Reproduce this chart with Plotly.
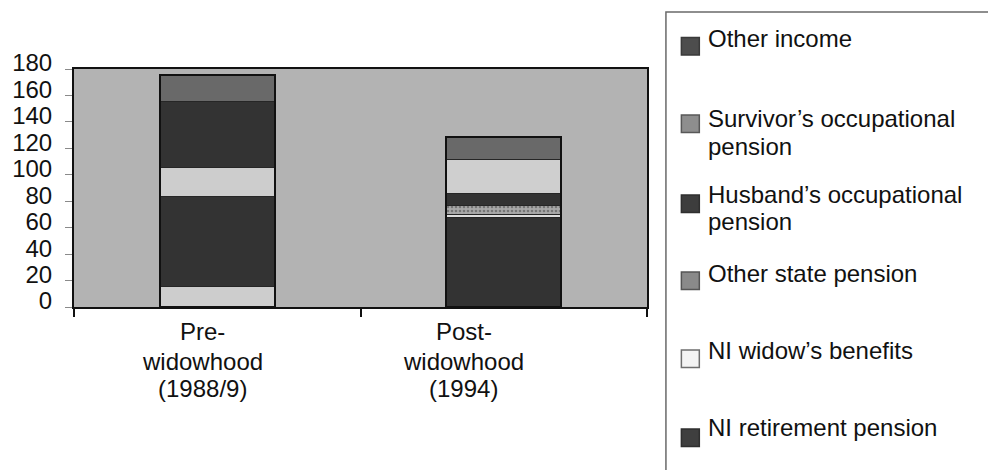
import plotly.graph_objects as go

# ---- data -------------------------------------------------------------
categories = ["Pre-widowhood (1988/9)", "Post-widowhood (1994)"]
category_label_lines = [["Pre-", "widowhood", "(1988/9)"],
                        ["Post-", "widowhood", "(1994)"]]

ni_retirement = [15.7, 67.8]
ni_widows = [68.2, 2.2]
other_state = [21.8, 7.0]
husbands_occ = [49.7, 8.9]
survivors_occ = [0.0, 25.8]
other_income = [20.3, 16.6]

series_names = ["NI retirement pension", "NI widow\u2019s benefits", "Other state pension",
                "Husband\u2019s occupational pension", "Survivor\u2019s occupational pension",
                "Other income"]
series_values = [ni_retirement, ni_widows, other_state, husbands_occ, survivors_occ, other_income]

y_ticks = [0, 20, 40, 60, 80, 100, 120, 140, 160, 180]

# legend entries, top to bottom, split into printed lines
legend_lines = [["Other income"],
                ["Survivor\u2019s occupational", "pension"],
                ["Husband\u2019s occupational", "pension"],
                ["Other state pension"],
                ["NI widow\u2019s benefits"],
                ["NI retirement pension"]]

# ---- styles -----------------------------------------------------------
LIGHT, DARK, MID, PLOT_BG = "#cdcdcd", "#333333", "#696969", "#b3b3b3"
segment_colors = [[LIGHT, DARK], [DARK, "#dedede"], [LIGHT, "#a9a9a9"],
                  [DARK, DARK], [LIGHT, "#cfcfcf"], [MID, MID]]
segment_patterns = [["", ""], ["", ""], ["", "."], ["", ""], ["", ""], ["", ""]]

FONT = "Liberation Sans, Arial, sans-serif"
W, H = 988, 470
ML, MR, MT, MB = 72, 341, 69, 163
PW, PH = W - ML - MR, H - MT - MB


def xp(px):
    return (px - ML) / PW


def yp(py):
    return (H - MB - py) / PH


fig = go.Figure()

for name, vals, cols, pats in zip(series_names, series_values, segment_colors, segment_patterns):
    fig.add_trace(go.Bar(
        x=categories, y=vals, name=name, width=0.4, showlegend=False,
        marker=dict(color=cols, line=dict(color="#262626", width=1),
                    pattern=dict(shape=pats, fgcolor="#7c7c7c", size=4, solidity=0.35)),
    ))

# outer outline of each stacked column
totals = [sum(v[i] for v in series_values) for i in range(len(categories))]
fig.add_trace(go.Bar(
    x=categories, y=totals, width=0.4, xaxis="x2", yaxis="y2", showlegend=False,
    marker=dict(color="rgba(0,0,0,0)", line=dict(color="#111111", width=2)),
    hoverinfo="skip",
))

fig.update_layout(
    width=W, height=H, barmode="stack",
    margin=dict(l=ML, r=MR, t=MT, b=MB, pad=0),
    paper_bgcolor="white", plot_bgcolor=PLOT_BG,
    font=dict(family=FONT, size=24, color="#111111"),
    xaxis=dict(type="category", categoryorder="array", categoryarray=categories,
               range=[-0.5, 1.5], showticklabels=False, tickson="boundaries",
               ticks="outside", ticklen=8, tickwidth=2, tickcolor="#111111",
               showline=True, linecolor="#111111", linewidth=2, mirror=True,
               showgrid=False, zeroline=False),
    yaxis=dict(range=[0, 180], tickvals=y_ticks, ticks="outside", ticklen=7,
               tickwidth=1, tickcolor="#8a8a8a", showline=True, linecolor="#111111",
               linewidth=2, mirror=True, showgrid=False, zeroline=False,
               ticklabelstandoff=8, ticklabelshift=-6,
               tickfont=dict(family=FONT, size=24, color="#111111")),
    xaxis2=dict(type="category", categoryorder="array", categoryarray=categories,
                range=[-0.5, 1.5], overlaying="x", visible=False),
    yaxis2=dict(range=[0, 180], overlaying="y", visible=False),
)

# category labels under the axis, one line at a time
label_baselines = [339.5, 369.5, 396.5]
label_shift = [-14.5, -40]
for cat, lines, shift in zip(categories, category_label_lines, label_shift):
    for line, base in zip(lines, label_baselines):
        fig.add_annotation(x=cat, xref="x", y=yp(base - 8), yref="paper", text=line,
                           showarrow=False, xanchor="center", yanchor="middle",
                           xshift=shift, font=dict(size=24, family=FONT, color="#111111"))

# legend panel
fig.add_shape(type="rect", xref="paper", yref="paper", x0=xp(666), x1=xp(1000),
              y0=yp(12), y1=yp(480), line=dict(color="#6a6a6a", width=1.5),
              fillcolor="rgba(0,0,0,0)", layer="above")

swatch_tops = [37.5, 115, 195, 272, 350, 429]
swatch_fill = ["#4d4d4d", "#8e8e8e", "#3d3d3d", "#8a8a8a", "#f3f3f3", "#3f3f3f"]
swatch_edge = ["#3a3a3a", "#585858", "#2f2f2f", "#555555", "#6e6e6e", "#2f2f2f"]
text_baselines = [[46.7], [126, 154], [202, 229.5], [281.7], [358.3], [435]]
for lines, top, fill, edge, bases in zip(legend_lines, swatch_tops, swatch_fill,
                                         swatch_edge, text_baselines):
    fig.add_shape(type="rect", xref="paper", yref="paper", x0=xp(681.5), x1=xp(699.5),
                  y0=yp(top + 17.5), y1=yp(top), fillcolor=fill,
                  line=dict(color=edge, width=1.5), layer="above")
    for line, base in zip(lines, bases):
        fig.add_annotation(x=xp(706), xref="paper", y=yp(base - 8), yref="paper",
                           text=line, showarrow=False, xanchor="left", yanchor="middle",
                           font=dict(size=24, family=FONT, color="#111111"))

fig.write_html("out.html")
